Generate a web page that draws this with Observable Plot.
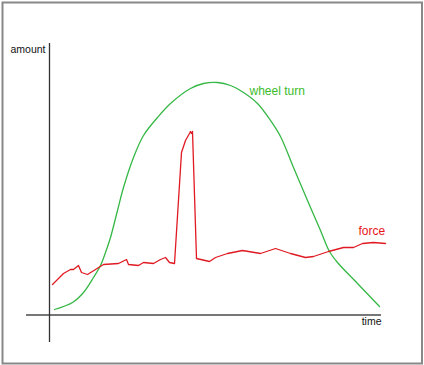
<!DOCTYPE html>
<html>
<head>
<meta charset="utf-8">
<script src="https://cdn.jsdelivr.net/npm/d3@7"></script>
<script src="https://cdn.jsdelivr.net/npm/@observablehq/plot@0.6"></script>
<style>
  html, body { margin: 0; padding: 0; background: #fff; }
  svg { display: block; }
</style>
</head>
<body>
<div id="chart"></div>
<script>
// wheel turn series (time, amount)
const wheelTime   = [5, 23, 34, 44, 51, 56, 61, 68, 74, 84, 94, 108, 121, 141, 154, 168, 181, 194, 208, 221, 231, 244, 258, 271, 280, 288, 308, 330];
const wheelAmount = [5.5, 12.5, 22.5, 37.5, 49.5, 62.5, 77.5, 104.5, 127.5, 157.5, 179.5, 197.5, 211.5, 226.5, 231.5, 232.5, 229.5, 222.5, 211.5, 194.5, 178.5, 147.5, 114.5, 84.5, 63.5, 52.5, 31.5, 8.5];

// force series (time, amount)
const forceTime   = [3, 14, 21, 24, 29, 32, 38, 46, 54, 69, 77, 79, 89, 94, 104, 111, 116, 120, 125, 132, 136, 140, 141, 142, 143, 147, 160, 166, 178, 193, 211, 226, 241, 256, 264, 279, 294, 304, 313, 324, 336];
const forceAmount = [30.5, 41.5, 45.5, 45.5, 49.5, 42.5, 40.5, 45.5, 50.5, 51.5, 55.5, 50.5, 49.5, 52.5, 51.5, 55.5, 57.5, 52.5, 51.5, 162.5, 174.5, 181.5, 183.5, 181.5, 183.5, 56.5, 53.5, 57.5, 61.5, 64.5, 61.5, 66.5, 61.5, 57.5, 58.5, 63.5, 67.5, 67.5, 71.5, 72.5, 71.5];

// axis extents and labels
const timeExtent   = [-23, 332];
const amountExtent = [-27.5, 271.5];
const axisLabels = [
  {label: "amount", t: -4, a: 265.7},
  {label: "time", t: 332, a: -6.3}
];
const seriesLabels = [
  {label: "wheel turn", t: 200, a: 224.3, color: "#3cbb2a"},
  {label: "force", t: 309, a: 84.3, color: "#e8141a"}
];

const wheel = wheelTime.map((t, i) => ({t, a: wheelAmount[i]}));
const force = forceTime.map((t, i) => ({t, a: forceAmount[i]}));

const chart = Plot.plot({
  width: 424,
  height: 365,
  marginTop: 2,
  marginLeft: 2,
  marginRight: 2.5,
  marginBottom: 2,
  style: {fontFamily: "'Liberation Sans', Arial, Helvetica, sans-serif", background: "#fff"},
  x: {domain: [0, 332], range: [49, 381], axis: null},
  y: {domain: [0, 271.5], range: [314.5, 43], axis: null},
  marks: [
    Plot.frame({stroke: "#888", strokeWidth: 2}),
    Plot.ruleY([0], {x1: timeExtent[0], x2: timeExtent[1], stroke: "#777", strokeWidth: 2}),
    Plot.ruleX([0], {y1: amountExtent[0], y2: amountExtent[1], stroke: "#333", strokeWidth: 1.3}),
    Plot.line(wheel, {x: "t", y: "a", stroke: "#35b845", strokeWidth: 1.3, curve: "catmull-rom"}),
    Plot.line(force, {x: "t", y: "a", stroke: "#e01a22", strokeWidth: 1.3}),
    Plot.text(axisLabels, {x: "t", y: "a", text: "label", textAnchor: "end", fontSize: 10.5, fill: "#111"}),
    Plot.text(seriesLabels, {x: "t", y: "a", text: "label", textAnchor: "start", fontSize: 12, fill: "color"})
  ]
});
document.getElementById("chart").appendChild(chart);
</script>
</body>
</html>
